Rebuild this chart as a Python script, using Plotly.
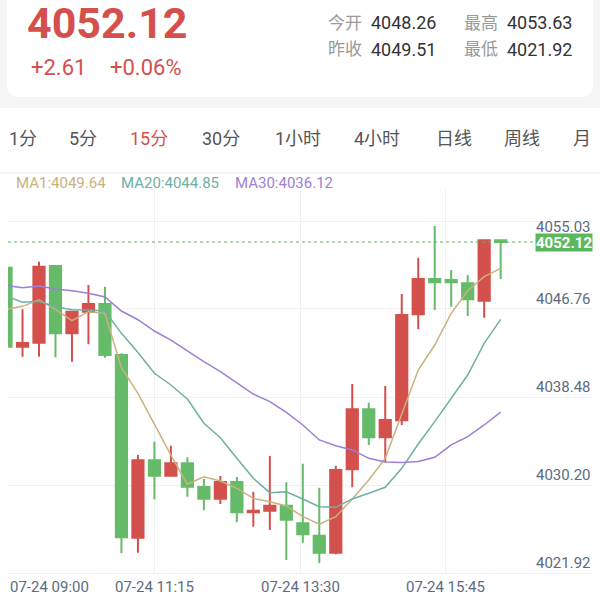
import plotly.graph_objects as go

# ---------------- data ----------------
times = ["09:00", "09:15", "09:30", "09:45", "10:00", "10:15", "10:30", "10:45",
         "11:00", "11:15", "11:30", "11:45", "12:00", "12:15", "12:30", "12:45",
         "13:00", "13:15", "13:30", "13:45", "14:00", "14:15", "14:30", "14:45",
         "15:00", "15:15", "15:30", "15:45", "16:00", "16:15", "16:30"]
opens = [4049.70, 4042.27, 4042.65, 4049.86, 4043.53, 4045.57, 4046.29, 4041.49,
         4024.31, 4031.59, 4030.14, 4031.30, 4029.07, 4027.97, 4029.55, 4026.69,
         4026.85, 4027.32, 4025.66, 4024.49, 4022.89, 4030.74, 4036.38, 4033.75,
         4035.35, 4045.32, 4048.64, 4048.55, 4048.24, 4046.60, 4052.28]
highs = [4049.75, 4045.79, 4050.27, 4049.96, 4045.63, 4048.08, 4047.92, 4041.65,
         4032.08, 4033.34, 4032.96, 4031.88, 4029.83, 4030.11, 4030.02, 4028.62,
         4032.00, 4029.52, 4031.27, 4029.01, 4031.08, 4038.76, 4037.00, 4038.57,
         4047.23, 4050.65, 4053.63, 4049.49, 4048.99, 4052.28, 4052.28]
lows = [4042.20, 4041.33, 4041.33, 4041.27, 4040.86, 4042.50, 4041.24, 4022.84,
        4022.89, 4027.92, 4030.14, 4028.16, 4026.88, 4027.47, 4025.75, 4025.34,
        4025.03, 4022.21, 4023.83, 4021.92, 4022.74, 4029.05, 4033.03, 4031.40,
        4034.91, 4043.91, 4045.73, 4046.04, 4045.16, 4045.00, 4048.64]
closes = [4042.27, 4042.62, 4049.80, 4043.53, 4045.57, 4046.29, 4041.49, 4024.34,
          4031.59, 4030.14, 4031.30, 4029.10, 4027.97, 4029.55, 4026.69, 4026.85,
          4027.32, 4026.00, 4024.64, 4022.89, 4030.67, 4036.38, 4033.75, 4035.38,
          4045.25, 4048.64, 4048.33, 4048.33, 4046.73, 4052.28, 4052.12]
ma1 = [4045.79, 4046.07, 4046.69, 4045.79, 4044.72, 4045.57, 4045.41, 4040.30,
       4037.89, 4034.91, 4032.08, 4029.33, 4030.04, 4029.64, 4028.95, 4028.01,
       4027.69, 4027.29, 4026.28, 4025.57, 4026.28, 4027.94, 4029.73, 4031.77,
       4036.01, 4040.08, 4042.43, 4045.41, 4047.54, 4048.86, 4049.64]
ma20 = [4047.04, 4046.45, 4046.54, 4046.04, 4045.75, 4045.73, 4045.63, 4043.53,
        4041.73, 4039.77, 4038.67, 4037.35, 4035.07, 4033.71, 4031.77, 4029.89,
        4028.54, 4028.63, 4027.95, 4027.22, 4027.16, 4027.95, 4028.48, 4029.05,
        4030.83, 4033.12, 4035.22, 4037.42, 4039.61, 4042.59, 4044.85]
ma30 = [4048.03, 4047.82, 4047.98, 4047.70, 4047.54, 4047.30, 4046.95, 4045.63,
        4044.81, 4043.75, 4042.90, 4041.87, 4040.86, 4039.92, 4038.83, 4037.82,
        4037.10, 4036.10, 4034.91, 4033.50, 4032.96, 4032.56, 4031.77, 4031.43,
        4031.38, 4031.47, 4031.87, 4033.03, 4033.81, 4034.91, 4036.12]

y_tick_labels = [4055.03, 4046.76, 4038.48, 4030.20, 4021.92]
x_tick_labels = ["07-24 09:00", "07-24 11:15", "07-24 13:30", "07-24 15:45"]
last_price = 4052.12
price_change = "+2.61"
price_change_pct = "+0.06%"
open_today = 4048.26
high_today = 4053.63
prev_close = 4049.51
low_today = 4021.92
tabs = ["1分", "5分", "15分", "30分", "1小时", "4小时", "日线", "周线", "月"]
active_tab = "15分"
ma_names = ["MA1", "MA20", "MA30"]

# ---------------- style / layout ----------------
W, H = 600, 600
ML, MR, MT, MB = 8, 7, 190, 27
PW, PH = W - ML - MR, H - MT - MB
RED = "#d4504c"
GREEN = "#66bb6a"
TAG_GREEN = "#5cb85c"
MA_COLORS = ["#c9b27c", "#6eb0a3", "#9d7fd5"]
AXIS_TXT = "#5c6b82"
GRID = "#f0f0f0"
FONT = "Roboto, 'Noto Sans CJK SC', sans-serif"

# axis ranges / tick placement (layout)
X_RANGE = [0.12, 35.60]
X_GRID_POS = [0.12, 8.98, 17.86, 26.68]
Y_RANGE = [4020.984, 4057.014]
GRID_OFFSET = 0.94


def fx(px):
    return (px - ML) / PW


def fy(py):
    return (H - MB - py) / PH


idx = list(range(len(times)))

fig = go.Figure()
fig.add_trace(go.Candlestick(
    x=idx, open=opens, high=highs, low=lows, close=closes,
    increasing=dict(line=dict(color=RED, width=2), fillcolor=RED),
    decreasing=dict(line=dict(color=GREEN, width=2), fillcolor=GREEN),
    whiskerwidth=0, showlegend=False, hoverinfo="skip"))
for name, vals, col in zip(ma_names, [ma1, ma20, ma30], MA_COLORS):
    fig.add_trace(go.Scatter(x=idx, y=vals, mode="lines", name=name,
                             line=dict(color=col, width=1.5), showlegend=False,
                             hoverinfo="skip"))

shapes = []
# page background band at top
shapes.append(dict(type="rect", xref="paper", yref="paper", x0=fx(0), x1=fx(600),
                   y0=fy(0), y1=fy(108), fillcolor="#f5f5f5", line=dict(width=0),
                   layer="below"))
# white rounded card
cx0, cx1, cyt, cyb, r = 7, 593, -10, 97, 12
path = (f"M {fx(cx0)},{fy(cyt)} L {fx(cx1)},{fy(cyt)} L {fx(cx1)},{fy(cyb - r)} "
        f"Q {fx(cx1)},{fy(cyb)} {fx(cx1 - r)},{fy(cyb)} L {fx(cx0 + r)},{fy(cyb)} "
        f"Q {fx(cx0)},{fy(cyb)} {fx(cx0)},{fy(cyb - r)} Z")
shapes.append(dict(type="path", xref="paper", yref="paper", path=path,
                   fillcolor="white", line=dict(width=0), layer="below"))
# separator under tabs
shapes.append(dict(type="line", xref="paper", yref="paper", x0=fx(0), x1=fx(600),
                   y0=fy(173), y1=fy(173), line=dict(color="#eeeeee", width=1)))
# last price dotted line
shapes.append(dict(type="line", xref="paper", yref="y", x0=0, x1=fx(536),
                   y0=last_price, y1=last_price,
                   line=dict(color=TAG_GREEN, width=1, dash="dot")))

ann = []


def add_text(x, y, text, size, color, xanchor="left", bold=False, height=None):
    a = dict(xref="paper", yref="paper", x=fx(x), y=fy(y),
             text=(f"<b>{text}</b>" if bold else text),
             showarrow=False, xanchor=xanchor, yanchor="middle",
             font=dict(size=size, color=color, family=FONT))
    if height:
        a["height"] = height
    ann.append(a)


# header
add_text(25, 23, f"{last_price:.2f}", 43, RED, bold=True, height=40)
add_text(29, 67, price_change, 22, RED)
add_text(108, 67, price_change_pct, 22, RED)
add_text(326, 23, "今开", 17, "#999999")
add_text(369, 23, f"{open_today:.2f}", 18, "#333333")
add_text(462, 23, "最高", 17, "#999999")
add_text(505, 23, f"{high_today:.2f}", 18, "#333333")
add_text(326, 49, "昨收", 17, "#999999")
add_text(369, 49, f"{prev_close:.2f}", 18, "#333333")
add_text(462, 49, "最低", 17, "#999999")
add_text(505, 49, f"{low_today:.2f}", 18, "#333333")

# tabs
tab_x = [7, 67, 128, 200, 273, 352, 434, 502, 571]
for t, x in zip(tabs, tab_x):
    add_text(x, 139, t, 18, RED if t == active_tab else "#555555")

# MA legend
legend_x = [14, 119, 233]
for name, vals, col, x in zip(ma_names, [ma1, ma20, ma30], MA_COLORS, legend_x):
    add_text(x, 183, f"{name}:{vals[-1]:.2f}", 15, col)

# y-axis labels (top one kept inside the pane)
for i, v in enumerate(y_tick_labels):
    ann.append(dict(xref="paper", yref="y", x=1, y=v, text=f"{v:.2f}", showarrow=False,
                    xanchor="right", yanchor="middle", yshift=(-16 if i == 0 else 0),
                    height=14, font=dict(size=15, color=AXIS_TXT, family=FONT)))
# last price tag
ann.append(dict(xref="paper", yref="y", x=1, y=last_price, text=f"<b>{last_price:.2f}</b>",
                showarrow=False, xanchor="right", yanchor="middle", bgcolor=TAG_GREEN,
                borderpad=0, height=17, font=dict(size=15, color="white", family=FONT)))
# x-axis labels
for i, (pos, lab) in enumerate(zip(X_GRID_POS, x_tick_labels)):
    ann.append(dict(xref="x", yref="paper", x=pos, y=fy(587), text=lab, showarrow=False,
                    xanchor="left" if i == 0 else "center", yanchor="middle",
                    font=dict(size=15, color=AXIS_TXT, family=FONT)))

fig.update_layout(
    width=W, height=H, margin=dict(l=ML, r=MR, t=MT, b=MB),
    paper_bgcolor="white", plot_bgcolor="white",
    font=dict(family=FONT), boxgap=0.32, boxgroupgap=0,
    shapes=shapes, annotations=ann, showlegend=False,
    xaxis=dict(range=X_RANGE, tickvals=X_GRID_POS, showticklabels=False, showgrid=True,
               gridcolor=GRID, gridwidth=1, zeroline=False, showline=True, linecolor=GRID,
               rangeslider=dict(visible=False), fixedrange=True),
    yaxis=dict(range=Y_RANGE, tickvals=[v - GRID_OFFSET for v in y_tick_labels],
               showticklabels=False, showgrid=True, gridcolor=GRID, gridwidth=1,
               zeroline=False, fixedrange=True),
)

fig.write_html("out.html", config={"displayModeBar": False},
               post_script="document.body.style.margin='0px';")
